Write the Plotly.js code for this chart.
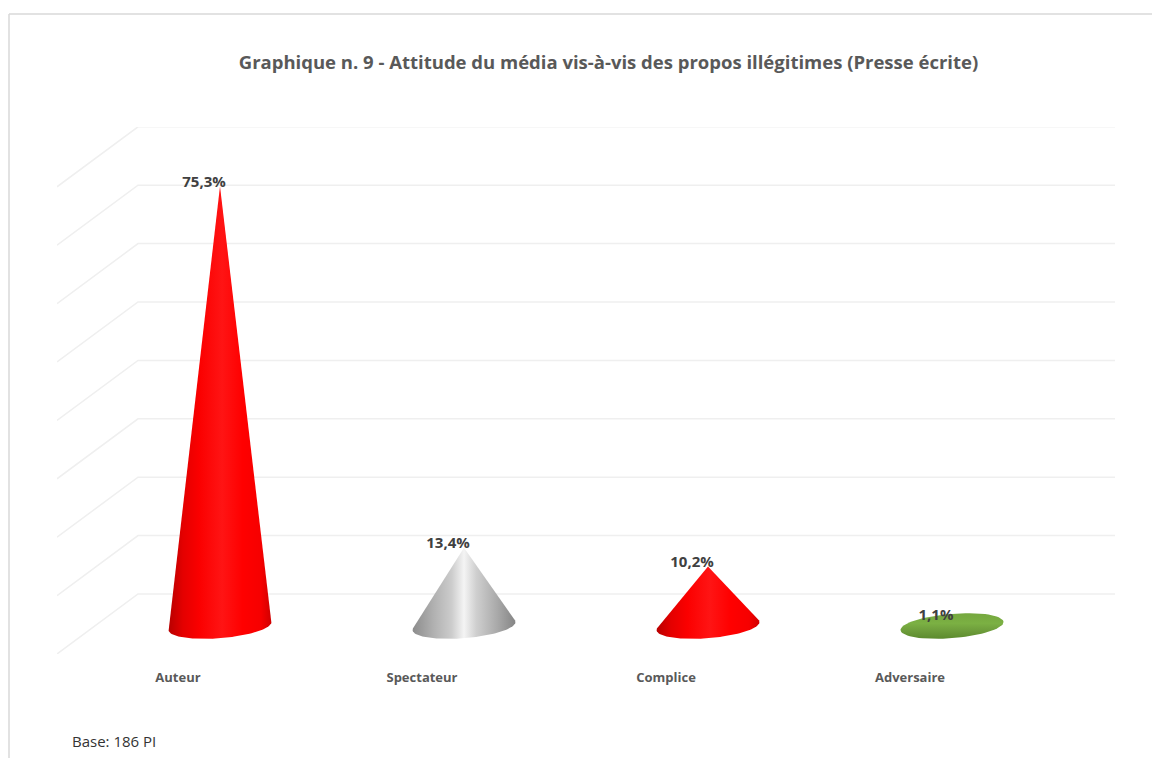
<!DOCTYPE html>
<html>
<head>
<meta charset="utf-8">
<script src="https://cdn.plot.ly/plotly-3.0.1.min.js"></script>
<style>html,body{margin:0;padding:0;background:#fff;overflow:hidden}</style>
</head>
<body>
<div id="chart" style="width:1152px;height:758px"></div>
<script>
// ---- data ----
const categories = ["Auteur", "Spectateur", "Complice", "Adversaire"];
const values = [75.3, 13.4, 10.2, 1.1];
const gridValues = [0, 10, 20, 30, 40, 50, 60, 70, 80];

const red = [[0,"#b80000"],[0.14,"#e40000"],[0.3,"#fb0000"],[0.52,"#ff1414"],[0.72,"#ff0000"],[0.9,"#f60000"],[1,"#d00000"]];
const grey = [[0,"#8c8c8c"],[0.2,"#b0b0b0"],[0.38,"#cccccc"],[0.5,"#f4f4f4"],[0.62,"#cfcfcf"],[0.82,"#aaaaaa"],[1,"#858585"]];
const green = [[0,"#5c8a2e"],[0.35,"#6f9f3c"],[0.6,"#7bb043"],[1,"#76a83f"]];
const fills = [
  {type:"horizontal", colorscale:red},
  {type:"horizontal", colorscale:grey},
  {type:"horizontal", colorscale:red},
  {type:"vertical", colorscale:green}
];

// ---- geometry of the pseudo-3D scene, in axis units ----
const font = "'Open Sans', sans-serif";
const W = 1152, H = 758;
const plot = {l:57, r:1115, t:127, b:654};
const pxPerX = 244, pxPerY = 5.84, firstPx = 220, basePx = 626;
const xRange = [(plot.l-firstPx)/pxPerX, (plot.r-firstPx)/pxPerX];
const yRange = [(basePx-plot.b)/pxPerY, (basePx-plot.t)/pxPerY];
const backX = (138-firstPx)/pxPerX;
const backOffset = (basePx-594)/pxPerY;
const frontOffset = (basePx-654)/pxPerY;
const rx = 51.5/pxPerX, ry = 12.2/pxPerY, tilt = 4/pxPerY;

function ellipsePoint(cx, t){
  return [cx + rx*Math.cos(t), tilt*Math.cos(t) - ry*Math.sin(t)];
}
function coneOutline(cx, v){
  const xs = [], ys = [];
  const full = v < 2*ry;
  const start = full ? 0 : -0.12, end = full ? 2*Math.PI : Math.PI+0.12, n = 72;
  for(let k=0;k<=n;k++){
    const p = ellipsePoint(cx, start+(end-start)*k/n);
    xs.push(p[0]); ys.push(p[1]);
  }
  if(!full){ xs.push(cx); ys.push(v); }
  xs.push(xs[0]); ys.push(ys[0]);
  return {xs, ys};
}

// wall / floor lines
const gx = [], gy = [];
gridValues.forEach(v=>{
  gx.push(xRange[0], backX, xRange[1], null);
  gy.push(v+frontOffset, v+backOffset, v+backOffset, null);
});

const traces = [{
  type:"scatter", mode:"lines", x:gx, y:gy, hoverinfo:"skip",
  line:{color:"#efefef", width:1.5}, cliponaxis:false
}];
values.forEach((v,i)=>{
  const o = coneOutline(i, v);
  traces.push({
    type:"scatter", mode:"lines", x:o.xs, y:o.ys, name:categories[i],
    fill:"toself", fillgradient:fills[i], line:{width:0, color:"rgba(0,0,0,0)"},
    hoverinfo:"name", cliponaxis:false
  });
});
traces.push({
  type:"scatter", mode:"text",
  x:values.map((v,i)=>i-16/pxPerX),
  y:values.map(v=>v+3.5/pxPerY),
  text:values.map(v=>v.toFixed(1).replace(".",",")+"%"),
  textposition:"middle center",
  textfont:{family:font, size:15, color:"#404040", weight:700},
  hoverinfo:"skip", cliponaxis:false
});

const paperX = px => (px-plot.l)/(plot.r-plot.l);
const paperY = py => (plot.b-py)/(plot.b-plot.t);

const layout = {
  width:W, height:H, autosize:false, showlegend:false,
  paper_bgcolor:"#ffffff", plot_bgcolor:"rgba(0,0,0,0)",
  margin:{l:plot.l, r:W-plot.r, t:plot.t, b:H-plot.b, pad:0},
  title:{
    text:"Graphique n. 9 - Attitude du média vis-à-vis des propos illégitimes (Presse écrite)",
    xref:"container", yref:"container", x:608.5/W, y:1-63/H, xanchor:"center", yanchor:"middle",
    font:{family:font, size:18.5, color:"#595959", weight:700}
  },
  xaxis:{
    range:xRange, showgrid:false, zeroline:false, showline:false,
    tickmode:"array", tickvals:categories.map((c,i)=>i-42/pxPerX), ticktext:categories,
    ticks:"outside", ticklen:11, tickcolor:"rgba(0,0,0,0)",
    tickfont:{family:font, size:13, color:"#595959", weight:700}, fixedrange:true
  },
  yaxis:{range:yRange, visible:false, showgrid:false, zeroline:false, fixedrange:true},
  annotations:[{
    xref:"paper", yref:"paper", x:paperX(70), y:paperY(741), xanchor:"left", yanchor:"middle",
    showarrow:false, text:"Base: 186 PI",
    font:{family:font, size:15, color:"#333333"}
  }],
  shapes:[
    {type:"line", xref:"paper", yref:"paper", x0:paperX(9), x1:paperX(9), y0:paperY(14), y1:paperY(H), line:{color:"#d9d9d9", width:1.5}},
    {type:"line", xref:"paper", yref:"paper", x0:paperX(9), x1:paperX(W), y0:paperY(14), y1:paperY(14), line:{color:"#d9d9d9", width:1.5}}
  ]
};
Plotly.newPlot("chart", traces, layout, {displayModeBar:false, responsive:false});
</script>
</body>
</html>
